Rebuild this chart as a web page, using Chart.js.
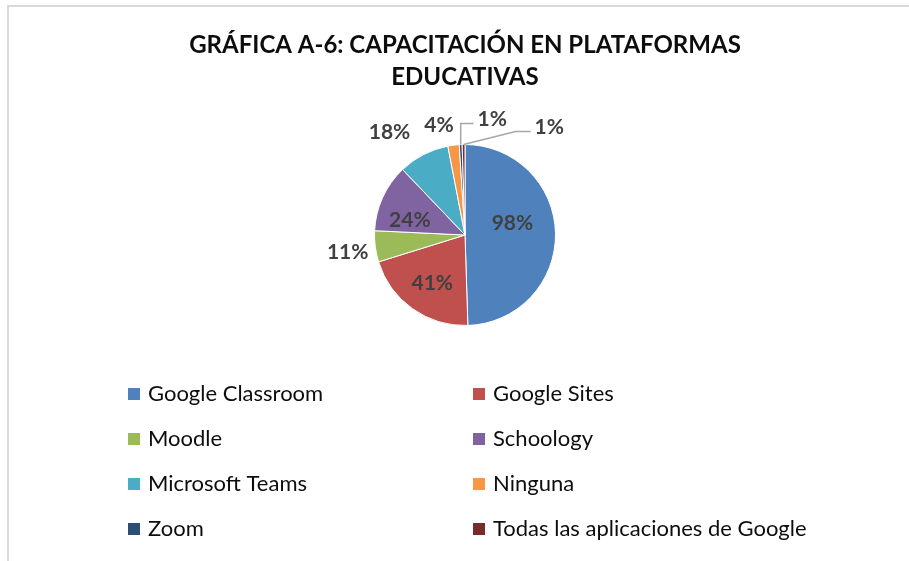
<!DOCTYPE html>
<html>
<head>
<meta charset="utf-8">
<script src="https://cdn.jsdelivr.net/npm/chart.js@4.4.1/dist/chart.umd.min.js"></script>
<style>
  html, body { margin: 0; padding: 0; background: #fff; }
  #wrap { width: 909px; height: 561px; }
</style>
</head>
<body>
<div id="wrap"><canvas id="myChart" width="909" height="561"></canvas></div>
<script>
// data
const labels = ['Google Classroom', 'Google Sites', 'Moodle', 'Schoology', 'Microsoft Teams', 'Ninguna', 'Zoom', 'Todas las aplicaciones de Google'];
const values = [98, 41, 11, 24, 18, 4, 1, 1];
const pctLabels = ['98%', '41%', '11%', '24%', '18%', '4%', '1%', '1%'];
const colors = ['#4F81BD', '#C0504D', '#9BBB59', '#8064A2', '#4BACC6', '#F79646', '#2C4D75', '#772C2A'];
const titleLines = ['GRÁFICA A-6: CAPACITACIÓN EN PLATAFORMAS', 'EDUCATIVAS'];

const FONT = 'Lato, "Open Sans", sans-serif';

// label placement: radius factor and angle shift (deg) relative to slice middle
const labelPos = [
  { f: 0.54, shift: -13 },
  { f: 0.64, shift: -1 },
  { f: 1.31, shift: -1 },
  { f: 0.63, shift: -10 },
  { f: 1.41, shift: -9 },
  { f: 1.25, shift: -6 },
  { f: 1.31, shift: 16, leader: true },
  { f: 1.51, shift: 39, leader: true }
];

const frame = {
  id: 'frame',
  beforeDraw(chart) {
    const { ctx, width, height } = chart;
    ctx.save();
    ctx.strokeStyle = '#d9d9d9';
    ctx.lineWidth = 2;
    ctx.beginPath();
    ctx.moveTo(8, height);
    ctx.lineTo(8, 6);
    ctx.lineTo(width, 6);
    ctx.stroke();
    ctx.restore();
  }
};

const sliceLabels = {
  id: 'sliceLabels',
  afterDatasetsDraw(chart) {
    const { ctx } = chart;
    const meta = chart.getDatasetMeta(0);
    ctx.save();
    ctx.font = 'bold 21px ' + FONT;
    ctx.textAlign = 'center';
    ctx.textBaseline = 'middle';
    meta.data.forEach((arc, i) => {
      const { x, y, startAngle, endAngle, outerRadius } = arc.getProps(['x', 'y', 'startAngle', 'endAngle', 'outerRadius'], true);
      const mid = (startAngle + endAngle) / 2;
      const p = labelPos[i];
      const a = mid + p.shift * Math.PI / 180;
      const lx = x + Math.cos(a) * outerRadius * p.f;
      const ly = y + Math.sin(a) * outerRadius * p.f;
      if (p.leader) {
        const w = ctx.measureText(pctLabels[i]).width;
        const ex = x + Math.cos(mid) * outerRadius;
        const ey = y + Math.sin(mid) * outerRadius;
        const endX = lx - w / 2 - 4;
        const endY = ly + 4;
        const elbowX = Math.max(ex, endX - 15);
        ctx.strokeStyle = '#a6a6a6';
        ctx.lineWidth = 1.5;
        ctx.beginPath();
        ctx.moveTo(ex, ey);
        ctx.lineTo(elbowX, endY);
        ctx.lineTo(endX, endY);
        ctx.stroke();
      }
      ctx.fillStyle = '#404040';
      ctx.fillText(pctLabels[i], lx, ly);
    });
    ctx.restore();
  }
};

const gridLegend = {
  id: 'gridLegend',
  afterDraw(chart) {
    const { ctx } = chart;
    const colX = [128, 473];
    const rowY = [394, 439, 484, 529];
    ctx.save();
    ctx.font = '22px ' + FONT;
    ctx.textAlign = 'left';
    ctx.textBaseline = 'middle';
    chart.data.labels.forEach((lab, i) => {
      const cx = colX[i % 2];
      const cy = rowY[Math.floor(i / 2)];
      ctx.fillStyle = chart.data.datasets[0].backgroundColor[i];
      ctx.fillRect(cx, cy - 6, 12, 12);
      ctx.fillStyle = '#0d0d0d';
      ctx.fillText(lab, cx + 20, cy);
    });
    ctx.restore();
  }
};

const ctx1 = document.getElementById('myChart');
const myChart = new Chart(ctx1, {
  type: 'pie',
  data: {
    labels: labels,
    datasets: [{
      data: values,
      backgroundColor: colors,
      borderColor: '#ffffff',
      borderWidth: 1
    }]
  },
  options: {
    responsive: false,
    animation: false,
    layout: {
      padding: { top: 0, left: 21, right: 0, bottom: 235 }
    },
    plugins: {
      legend: { display: false },
      tooltip: { enabled: false },
      title: {
        display: true,
        text: titleLines,
        color: '#0d0d0d',
        font: { family: FONT, size: 24, weight: 'bold', lineHeight: 32 / 24 },
        padding: { top: 29, bottom: 51 }
      }
    }
  },
  plugins: [frame, sliceLabels, gridLegend]
});
</script>
</body>
</html>
